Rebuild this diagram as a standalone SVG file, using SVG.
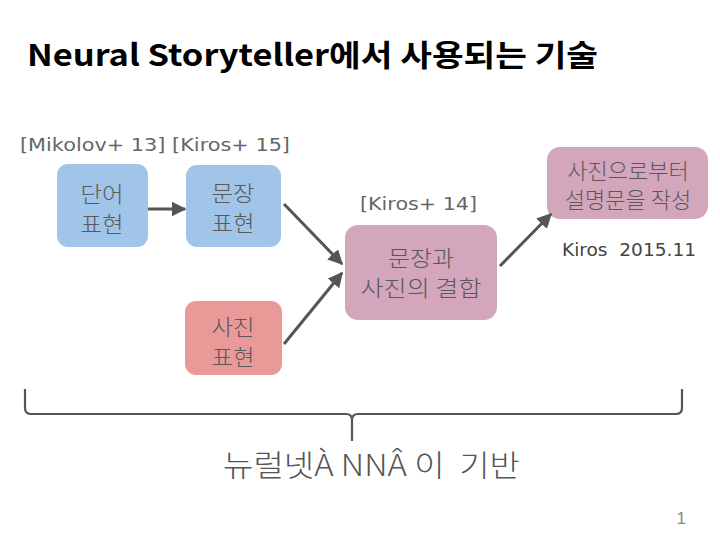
<svg xmlns="http://www.w3.org/2000/svg" width="720" height="540" viewBox="0 0 720 540">
<defs>
<style>
.t{font-family:"Noto Sans CJK KR","Liberation Sans",sans-serif;fill:#595959;font-size:22px;font-weight:300;text-anchor:middle}
.lbl{font-family:"DejaVu Sans","Noto Sans CJK KR",sans-serif;fill:#666;font-size:18px;white-space:pre}
.c{stroke:#555;stroke-width:3;fill:none;marker-end:url(#ah)}
.blue{fill:#a0c5e8}
.red{fill:#e99a98}
.pink{fill:#d4a6bb}
</style>
<marker id="ah" viewBox="0 0 10 10" refX="9" refY="5" markerWidth="5" markerHeight="5" orient="auto" markerUnits="strokeWidth">
<path d="M0,0 L10,5 L0,10 z" fill="#555"/>
</marker>
</defs>
<rect width="720" height="540" fill="#fff"/>
<text x="27" y="66" textLength="571" lengthAdjust="spacingAndGlyphs" style="font-family:'Noto Sans CJK KR',sans-serif;font-weight:bold;font-size:30px;fill:#000">Neural Storyteller에서 사용되는 기술</text>

<text class="lbl" x="20" y="151" textLength="270" lengthAdjust="spacingAndGlyphs">[Mikolov+ 13] [Kiros+ 15]</text>
<text class="lbl" x="360" y="210" textLength="117" lengthAdjust="spacingAndGlyphs">[Kiros+ 14]</text>
<text class="lbl" x="562" y="256" textLength="134" lengthAdjust="spacingAndGlyphs" xml:space="preserve" style="fill:#444;font-size:17px">Kiros  2015.11</text>

<g id="n1"><rect class="blue" x="57" y="164" width="91" height="83" rx="11"/><text class="t" x="102" y="202" textLength="43" lengthAdjust="spacingAndGlyphs">단어</text><text class="t" x="102" y="232" textLength="43" lengthAdjust="spacingAndGlyphs">표현</text></g>
<g id="n2"><rect class="blue" x="186" y="165" width="95" height="82" rx="11"/><text class="t" x="233" y="201" textLength="43" lengthAdjust="spacingAndGlyphs">문장</text><text class="t" x="233" y="231" textLength="43" lengthAdjust="spacingAndGlyphs">표현</text></g>
<g id="n3"><rect class="red" x="185" y="301" width="97" height="74" rx="11"/><text class="t" x="233" y="335" textLength="43" lengthAdjust="spacingAndGlyphs">사진</text><text class="t" x="233" y="365" textLength="43" lengthAdjust="spacingAndGlyphs">표현</text></g>
<g id="n4"><rect class="pink" x="345" y="225" width="152" height="95" rx="13"/><text class="t" x="421" y="266" textLength="66" lengthAdjust="spacingAndGlyphs">문장과</text><text class="t" x="421" y="296" textLength="121" lengthAdjust="spacingAndGlyphs">사진의 결합</text></g>
<g id="n5"><rect class="pink" x="547" y="147" width="161" height="72" rx="13"/><text class="t" x="628" y="179">사진으로부터</text><text class="t" x="628" y="208">설명문을 작성</text></g>

<g id="connectors">
<line class="c" x1="148" y1="209" x2="185" y2="209"/>
<line class="c" x1="284" y1="204" x2="342" y2="264"/>
<line class="c" x1="284" y1="344" x2="342" y2="273"/>
<line class="c" x1="500" y1="266" x2="551" y2="214"/>
</g>

<path d="M25,389 L25,408 Q25,414 31,414 L346,414 Q352,414 352,420 L352,441 M352,420 Q352,414 358,414 L676,414 Q682,414 682,408 L682,389" fill="none" stroke="#555" stroke-width="2.2"/>

<text x="223" y="476" textLength="297" lengthAdjust="spacingAndGlyphs" xml:space="preserve" style="font-family:'Noto Sans CJK KR',sans-serif;font-size:30px;font-weight:300;fill:#555">뉴럴넷À NNÂ 이  기반</text>
<text x="686" y="524" style="font-family:'Liberation Sans',sans-serif;font-size:17px;fill:#888;text-anchor:end">1</text>
</svg>
